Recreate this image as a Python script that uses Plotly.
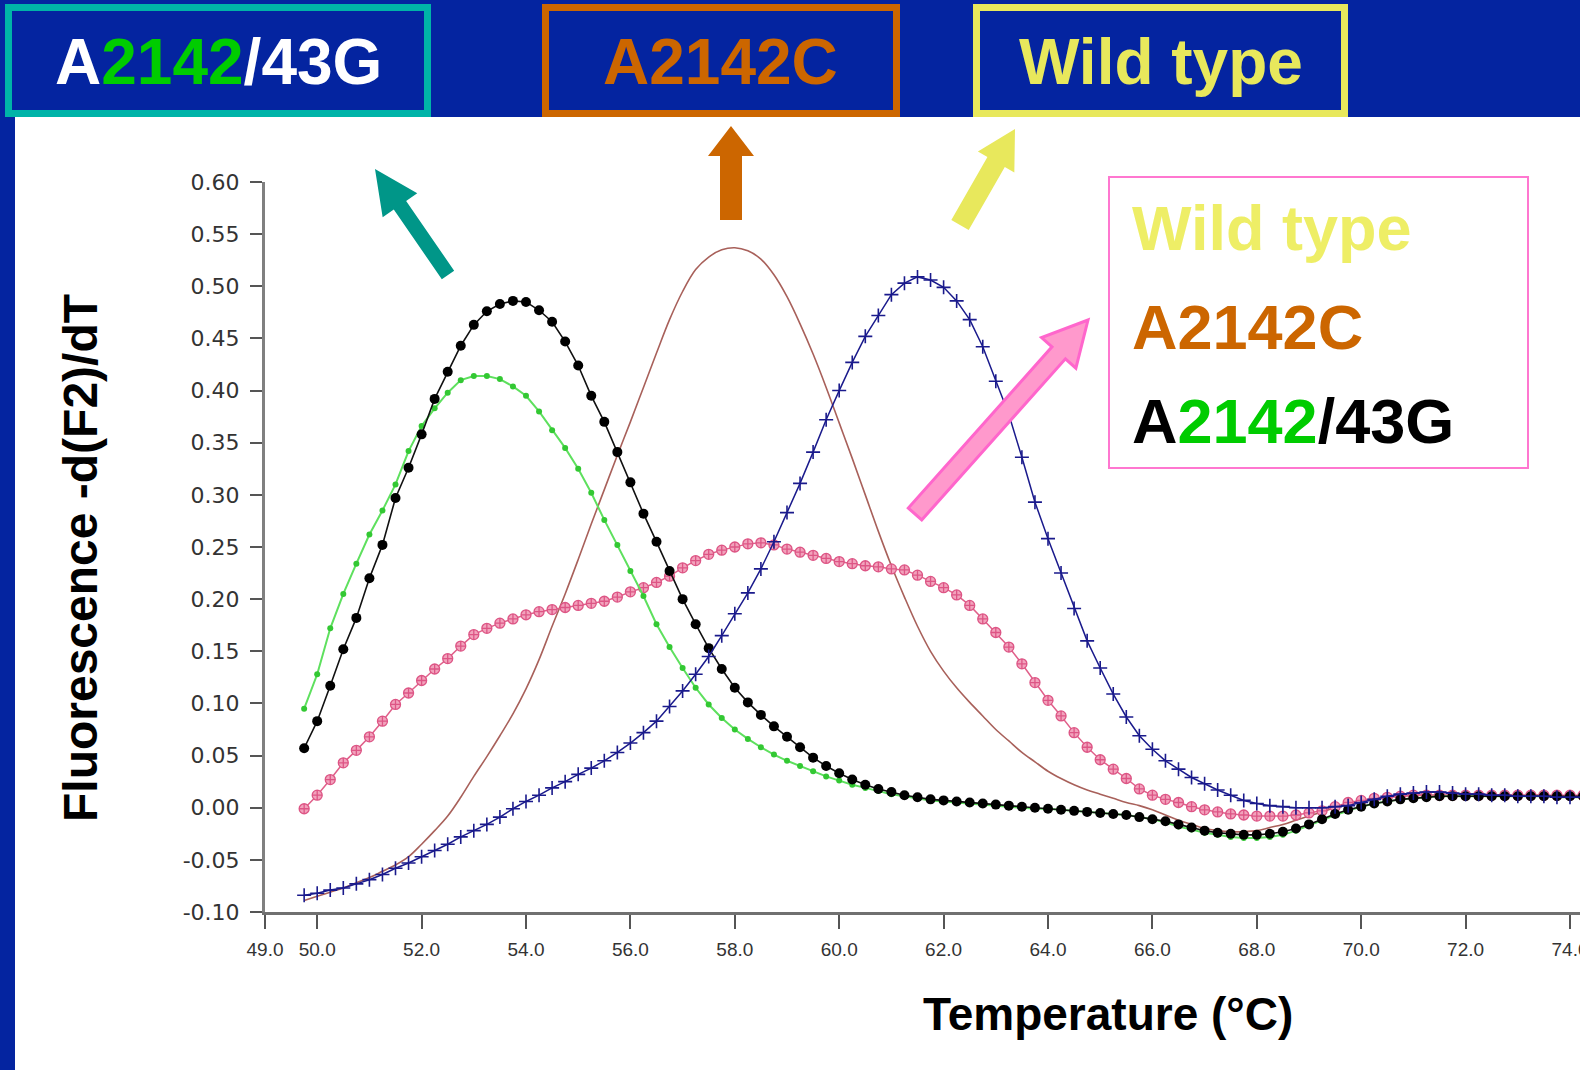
import math
import plotly.graph_objects as go

# ---------------- data ----------------
temps = [round(49.75 + 0.25 * i, 2) for i in range(99)]  # 49.75 ... 74.25 degC

green_vals = [
    0.095, 0.128, 0.172, 0.205, 0.234, 0.262, 0.285, 0.310, 0.342, 0.366,
    0.383, 0.398, 0.410, 0.414, 0.414, 0.411, 0.404, 0.395, 0.380, 0.362,
    0.345, 0.325, 0.302, 0.276, 0.252, 0.227, 0.203, 0.176, 0.154, 0.134,
    0.115, 0.099, 0.086, 0.075, 0.066, 0.058, 0.051, 0.045, 0.040, 0.035,
    0.030, 0.026, 0.022, 0.019, 0.016, 0.013, 0.011, 0.009, 0.007, 0.006,
    0.005, 0.004, 0.003, 0.002, 0.001, 0.000, -0.001, -0.001, -0.002, -0.003,
    -0.004, -0.005, -0.006, -0.007, -0.009, -0.011, -0.014, -0.018, -0.021, -0.024,
    -0.026, -0.028, -0.029, -0.029, -0.028, -0.026, -0.022, -0.017, -0.012, -0.007,
    -0.003, 0.001, 0.004, 0.006, 0.008, 0.009, 0.010, 0.011, 0.011, 0.011,
    0.011, 0.011, 0.011, 0.011, 0.011, 0.011, 0.010, 0.010, 0.010,
]

black_vals = [
    0.057, 0.083, 0.117, 0.152, 0.182, 0.220, 0.252, 0.297, 0.326, 0.358,
    0.392, 0.418, 0.443, 0.463, 0.476, 0.483, 0.486, 0.485, 0.477, 0.466,
    0.447, 0.424, 0.395, 0.370, 0.341, 0.312, 0.282, 0.255, 0.227, 0.200,
    0.176, 0.153, 0.133, 0.115, 0.101, 0.089, 0.078, 0.068, 0.058, 0.048,
    0.040, 0.033, 0.027, 0.022, 0.018, 0.015, 0.012, 0.010, 0.008, 0.007,
    0.006, 0.005, 0.004, 0.003, 0.002, 0.001, 0.000, -0.001, -0.002, -0.003,
    -0.004, -0.005, -0.006, -0.007, -0.009, -0.011, -0.013, -0.016, -0.019, -0.022,
    -0.024, -0.025, -0.026, -0.026, -0.025, -0.023, -0.020, -0.016, -0.011, -0.006,
    -0.002, 0.001, 0.004, 0.006, 0.008, 0.009, 0.010, 0.011, 0.011, 0.011,
    0.011, 0.011, 0.011, 0.011, 0.011, 0.011, 0.011, 0.011, 0.011,
]

brown_vals = [
    -0.089, -0.085, -0.081, -0.077, -0.072, -0.067, -0.061, -0.055, -0.047, -0.035,
    -0.022, -0.008, 0.010, 0.030, 0.049, 0.069, 0.090, 0.114, 0.142, 0.174,
    0.205, 0.238, 0.272, 0.305, 0.338, 0.370, 0.403, 0.436, 0.468, 0.495,
    0.516, 0.528, 0.535, 0.537, 0.534, 0.526, 0.511, 0.490, 0.464, 0.435,
    0.403, 0.369, 0.335, 0.300, 0.265, 0.232, 0.202, 0.174, 0.150, 0.131,
    0.115, 0.101, 0.088, 0.075, 0.064, 0.053, 0.044, 0.035, 0.028, 0.022,
    0.017, 0.013, 0.009, 0.005, 0.002, -0.002, -0.007, -0.012, -0.016, -0.020,
    -0.022, -0.023, -0.023, -0.022, -0.019, -0.016, -0.012, -0.008, -0.004, 0.000,
    0.003, 0.006, 0.008, 0.010, 0.011, 0.012, 0.012, 0.012, 0.012, 0.012,
    0.012, 0.012, 0.012, 0.012, 0.012, 0.012, 0.011, 0.011, 0.011,
]

blue_vals = [
    -0.084, -0.082, -0.079, -0.077, -0.073, -0.069, -0.064, -0.058, -0.053, -0.047,
    -0.041, -0.035, -0.028, -0.022, -0.016, -0.009, -0.001, 0.006, 0.012, 0.019,
    0.025, 0.032, 0.038, 0.045, 0.053, 0.062, 0.072, 0.083, 0.097, 0.112,
    0.128, 0.145, 0.165, 0.186, 0.206, 0.229, 0.255, 0.283, 0.311, 0.341,
    0.372, 0.400, 0.427, 0.452, 0.472, 0.492, 0.503, 0.509, 0.506, 0.499,
    0.486, 0.468, 0.442, 0.409, 0.377, 0.336, 0.293, 0.258, 0.225, 0.191,
    0.160, 0.134, 0.109, 0.087, 0.069, 0.056, 0.045, 0.037, 0.029, 0.023,
    0.017, 0.012, 0.007, 0.004, 0.002, 0.001, 0.000, 0.000, 0.000, 0.001,
    0.002, 0.005, 0.008, 0.011, 0.013, 0.014, 0.015, 0.015, 0.014, 0.013,
    0.013, 0.012, 0.012, 0.011, 0.011, 0.011, 0.010, 0.010, 0.010,
]

pink_vals = [
    -0.001, 0.012, 0.027, 0.043, 0.055, 0.068, 0.083, 0.099, 0.110, 0.122,
    0.133, 0.143, 0.155, 0.166, 0.172, 0.177, 0.181, 0.185, 0.188, 0.190,
    0.192, 0.194, 0.196, 0.198, 0.202, 0.207, 0.211, 0.216, 0.222, 0.230,
    0.237, 0.243, 0.247, 0.250, 0.253, 0.254, 0.252, 0.248, 0.245, 0.242,
    0.239, 0.236, 0.234, 0.232, 0.231, 0.229, 0.228, 0.223, 0.217, 0.211,
    0.204, 0.194, 0.181, 0.168, 0.154, 0.138, 0.120, 0.103, 0.088, 0.072,
    0.058, 0.046, 0.037, 0.028, 0.018, 0.012, 0.008, 0.005, 0.001, -0.002,
    -0.004, -0.006, -0.007, -0.008, -0.008, -0.008, -0.007, -0.005, -0.003, 0.001,
    0.005, 0.007, 0.009, 0.010, 0.011, 0.012, 0.012, 0.012, 0.012, 0.012,
    0.012, 0.012, 0.012, 0.012, 0.012, 0.012, 0.012, 0.012, 0.012,
]

x_tick_vals = [49, 50, 52, 54, 56, 58, 60, 62, 64, 66, 68, 70, 72, 74]
x_tick_text = ["49.0", "50.0", "52.0", "54.0", "56.0", "58.0", "60.0", "62.0",
               "64.0", "66.0", "68.0", "70.0", "72.0", "74.0"]
y_tick_vals = [-0.10, -0.05, 0.00, 0.05, 0.10, 0.15, 0.20, 0.25, 0.30,
               0.35, 0.40, 0.45, 0.50, 0.55, 0.60]
y_tick_text = ["-0.10", "-0.05", "0.00", "0.05", "0.10", "0.15", "0.20", "0.25",
               "0.30", "0.35", "0.40", "0.45", "0.50", "0.55", "0.60"]

header_labels = [
    "A<span style='color:#00CC00'>2142</span>/43G",
    "A2142C",
    "Wild type",
]
legend_labels = [
    "Wild type",
    "A2142C",
    "A<span style='color:#00CC00'>2142</span>/43G",
]

# ---------------- layout geometry ----------------
W, H = 1580, 1070
ML, MR, MT, MB = 265, 0, 182, 158
PW = W - ML - MR
PH = H - MT - MB
X0 = 49.0
X1 = X0 + PW / 52.2

BLUE = "#0424A0"
FONT = "Liberation Sans, Arial, sans-serif"


def px(xp):
    return (xp - ML) / PW


def py(yp):
    return (H - MB - yp) / PH


def arrow_path(x0, y0, x1, y1, shaft_w, head_w, head_len):
    dx, dy = x1 - x0, y1 - y0
    ln = math.hypot(dx, dy)
    ux, uy = dx / ln, dy / ln
    nx, ny = -uy, ux
    bx, by = x1 - ux * head_len, y1 - uy * head_len
    pts = [
        (x0 + nx * shaft_w / 2, y0 + ny * shaft_w / 2),
        (bx + nx * shaft_w / 2, by + ny * shaft_w / 2),
        (bx + nx * head_w / 2, by + ny * head_w / 2),
        (x1, y1),
        (bx - nx * head_w / 2, by - ny * head_w / 2),
        (bx - nx * shaft_w / 2, by - ny * shaft_w / 2),
        (x0 - nx * shaft_w / 2, y0 - ny * shaft_w / 2),
    ]
    return "M " + " L ".join(f"{px(a):.5f},{py(b):.5f}" for a, b in pts) + " Z"


fig = go.Figure()

fig.add_trace(go.Scatter(
    x=temps, y=brown_vals, mode="lines", line_shape="spline",
    line=dict(color="#A8605A", width=1.6), name="brown"))
fig.add_trace(go.Scatter(
    x=temps, y=pink_vals, mode="lines+markers",
    line=dict(color="#E0608A", width=1.5),
    marker=dict(symbol="circle-cross", size=10, color="#F2A2BC",
                line=dict(color="#DD5585", width=1.3)), name="pink"))
fig.add_trace(go.Scatter(
    x=temps, y=green_vals, mode="lines+markers",
    line=dict(color="#5EE05E", width=2),
    marker=dict(symbol="circle", size=6, color="#33C833"), name="green"))
fig.add_trace(go.Scatter(
    x=temps, y=black_vals, mode="lines+markers",
    line=dict(color="#111111", width=1.6),
    marker=dict(symbol="circle", size=10, color="#000000"), name="black"))
fig.add_trace(go.Scatter(
    x=temps, y=blue_vals, mode="lines+markers",
    line=dict(color="#1A1A8C", width=1.5),
    marker=dict(symbol="cross-thin", size=10, color="#1A1A8C",
                line=dict(color="#1A1A8C", width=1.6)), name="blue"))

shapes = []
# white slide area
shapes.append(dict(type="rect", xref="paper", yref="paper", layer="below",
                   x0=px(15), x1=px(W + 5), y0=py(117), y1=py(H + 5),
                   fillcolor="white", line=dict(width=0)))
# header boxes
for (a, b, col) in [(5, 431, "#00B4A8"), (542, 900, "#CC6600"), (973, 1348, "#E8E85C")]:
    shapes.append(dict(type="rect", xref="paper", yref="paper",
                       x0=px(a + 3.5), x1=px(b - 3.5), y0=py(4 + 3.5), y1=py(117 - 3.5),
                       fillcolor=BLUE, line=dict(color=col, width=7)))
# legend box
shapes.append(dict(type="rect", xref="paper", yref="paper",
                   x0=px(1109), x1=px(1528), y0=py(177), y1=py(468),
                   line=dict(color="#FF77D0", width=2)))
# arrows
shapes.append(dict(type="path", xref="paper", yref="paper",
                   path=arrow_path(448, 275, 375, 169, 15, 42, 44),
                   fillcolor="#009688", line=dict(width=0)))
shapes.append(dict(type="path", xref="paper", yref="paper",
                   path=arrow_path(731, 220, 731, 126, 22, 46, 30),
                   fillcolor="#CC6600", line=dict(width=0)))
shapes.append(dict(type="path", xref="paper", yref="paper",
                   path=arrow_path(960, 225, 1015, 129, 20, 42, 38),
                   fillcolor="#E8E85C", line=dict(width=0)))
shapes.append(dict(type="path", xref="paper", yref="paper",
                   path=arrow_path(915, 514, 1088, 320, 18, 46, 44),
                   fillcolor="#FF99CC", line=dict(color="#FF66CC", width=3)))

annotations = []
for txt, cx, col in zip(header_labels, [218, 720, 1161], ["white", "#CC6600", "#E8E85C"]):
    annotations.append(dict(xref="paper", yref="paper", x=px(cx), y=py(62),
                            xanchor="center", yanchor="middle", showarrow=False,
                            text=f"<b>{txt}</b>",
                            font=dict(family=FONT, size=64, color=col)))
for txt, cy, col in zip(legend_labels, [228, 327, 421], ["#EEEE66", "#CC6600", "#000000"]):
    annotations.append(dict(xref="paper", yref="paper", x=px(1130), y=py(cy),
                            xanchor="left", yanchor="middle", showarrow=False,
                            text=f"<b>{txt}</b>",
                            font=dict(family=FONT, size=63, color=col)))
annotations.append(dict(xref="paper", yref="paper", x=px(80), y=py(558),
                        xanchor="center", yanchor="middle", showarrow=False,
                        textangle=-90, text="<b>Fluorescence -d(F2)/dT</b>",
                        font=dict(family=FONT, size=48, color="black")))
annotations.append(dict(xref="paper", yref="paper", x=px(1108), y=py(1014),
                        xanchor="center", yanchor="middle", showarrow=False,
                        text="<b>Temperature (°C)</b>",
                        font=dict(family=FONT, size=46, color="black")))

fig.update_layout(
    template="none",
    width=W, height=H,
    margin=dict(l=ML, r=MR, t=MT, b=MB, pad=0),
    paper_bgcolor=BLUE, plot_bgcolor="white",
    showlegend=False,
    shapes=shapes, annotations=annotations,
    xaxis=dict(range=[X0, X1], showgrid=False, zeroline=False, automargin=False,
               showline=True, linecolor="#707070", linewidth=3,
               ticks="outside", ticklen=14, tickwidth=2, tickcolor="#555555",
               tickmode="array", tickvals=x_tick_vals, ticktext=x_tick_text,
               tickangle=0, ticklabelstandoff=4, ticklabeloverflow="allow",
               tickfont=dict(family=FONT, size=19, color="#333333")),
    yaxis=dict(range=[-0.10, 0.60], showgrid=False, zeroline=False, automargin=False,
               showline=True, linecolor="#808080", linewidth=3,
               ticks="outside", ticklen=12, tickwidth=2, tickcolor="#555555",
               tickmode="array", tickvals=y_tick_vals, ticktext=y_tick_text,
               ticklabelstandoff=6,
               tickfont=dict(family="DejaVu Sans, sans-serif", size=22, color="#333333")),
)

fig.write_html("out.html", config={"displayModeBar": False},
               post_script="document.body.style.margin='0';")
